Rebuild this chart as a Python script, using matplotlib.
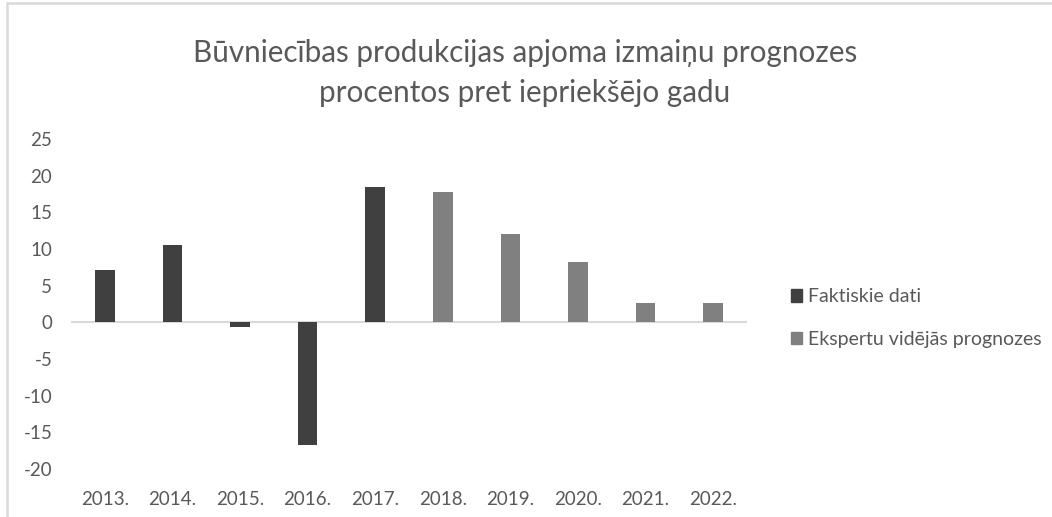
import matplotlib
matplotlib.use("Agg")
import matplotlib.pyplot as plt
from matplotlib.patches import Rectangle, Patch
import numpy as np

#%% Data
years     = ['2013.', '2014.', '2015.', '2016.', '2017.', '2018.', '2019.', '2020.', '2021.', '2022.']
actual    = [7.2, 10.6, -0.6, -16.7, 18.5, None, None, None, None, None]  # Faktiskie dati
forecast  = [None, None, None, None, None, 17.8, 12.1, 8.2, 2.7, 2.7]      # Ekspertu vidējās prognozes
y_ticks   = [-20, -15, -10, -5, 0, 5, 10, 15, 20, 25]

title = 'Būvniecības produkcijas apjoma izmaiņu prognozes\nprocentos pret iepriekšējo gadu'
lbl_actual   = 'Faktiskie dati'
lbl_forecast = 'Ekspertu vidējās prognozes'

#%% Style
plt.rcParams['font.family'] = ['Lato', 'DejaVu Sans']
txt_col   = '#595959'
c_actual  = '#404040'
c_fcst    = '#808080'

fig = plt.figure(figsize=(10.52, 5.17), dpi=100)
ax = fig.add_axes([0.0675, 0.0928, 0.6425, 0.638])

x = np.arange(len(years))
w = 0.29
xa = [i for i, v in zip(x, actual) if v is not None]
va = [v for v in actual if v is not None]
xf = [i for i, v in zip(x, forecast) if v is not None]
vf = [v for v in forecast if v is not None]
ax.bar(xa, va, width=w, color=c_actual, zorder=2)
ax.bar(xf, vf, width=w, color=c_fcst, zorder=2)

ax.axhline(0, color='#d9d9d9', lw=1.5, zorder=1)
ax.set_xlim(-0.5, len(years) - 0.5)
ax.set_ylim(-20, 25)
ax.set_yticks(y_ticks)
ax.set_yticklabels([str(t) for t in y_ticks])
ax.set_xticks([])
for s in ax.spines.values():
    s.set_visible(False)
ax.tick_params(axis='y', length=0, pad=13.5, labelsize=13.5, labelcolor=txt_col)

# category labels below the plot
for i, yr in zip(x, years):
    ax.text(i, -24.2, yr, ha='center', va='center', fontsize=13.5, color=txt_col)

fig.text(0.499, 0.859, title, ha='center', va='center', fontsize=21.3,
         color=txt_col, linespacing=1.5)

handles = [Patch(color=c_actual, label=lbl_actual), Patch(color=c_fcst, label=lbl_forecast)]
leg = fig.legend(handles=handles, loc='center left', bbox_to_anchor=(0.735, 0.385),
                 frameon=False, fontsize=14, handlelength=0.6, handleheight=0.6,
                 handletextpad=0.3, labelspacing=1.3, labelcolor=txt_col)

# chart-area border (only top and left visible in the crop)
fig.add_artist(Rectangle((7 / 1052, -0.1), 1.2, 1 - 3 / 517 + 0.1, transform=fig.transFigure,
                         fill=False, edgecolor='#d9d9d9', lw=1.8))

fig.savefig('out.png', dpi=100)
